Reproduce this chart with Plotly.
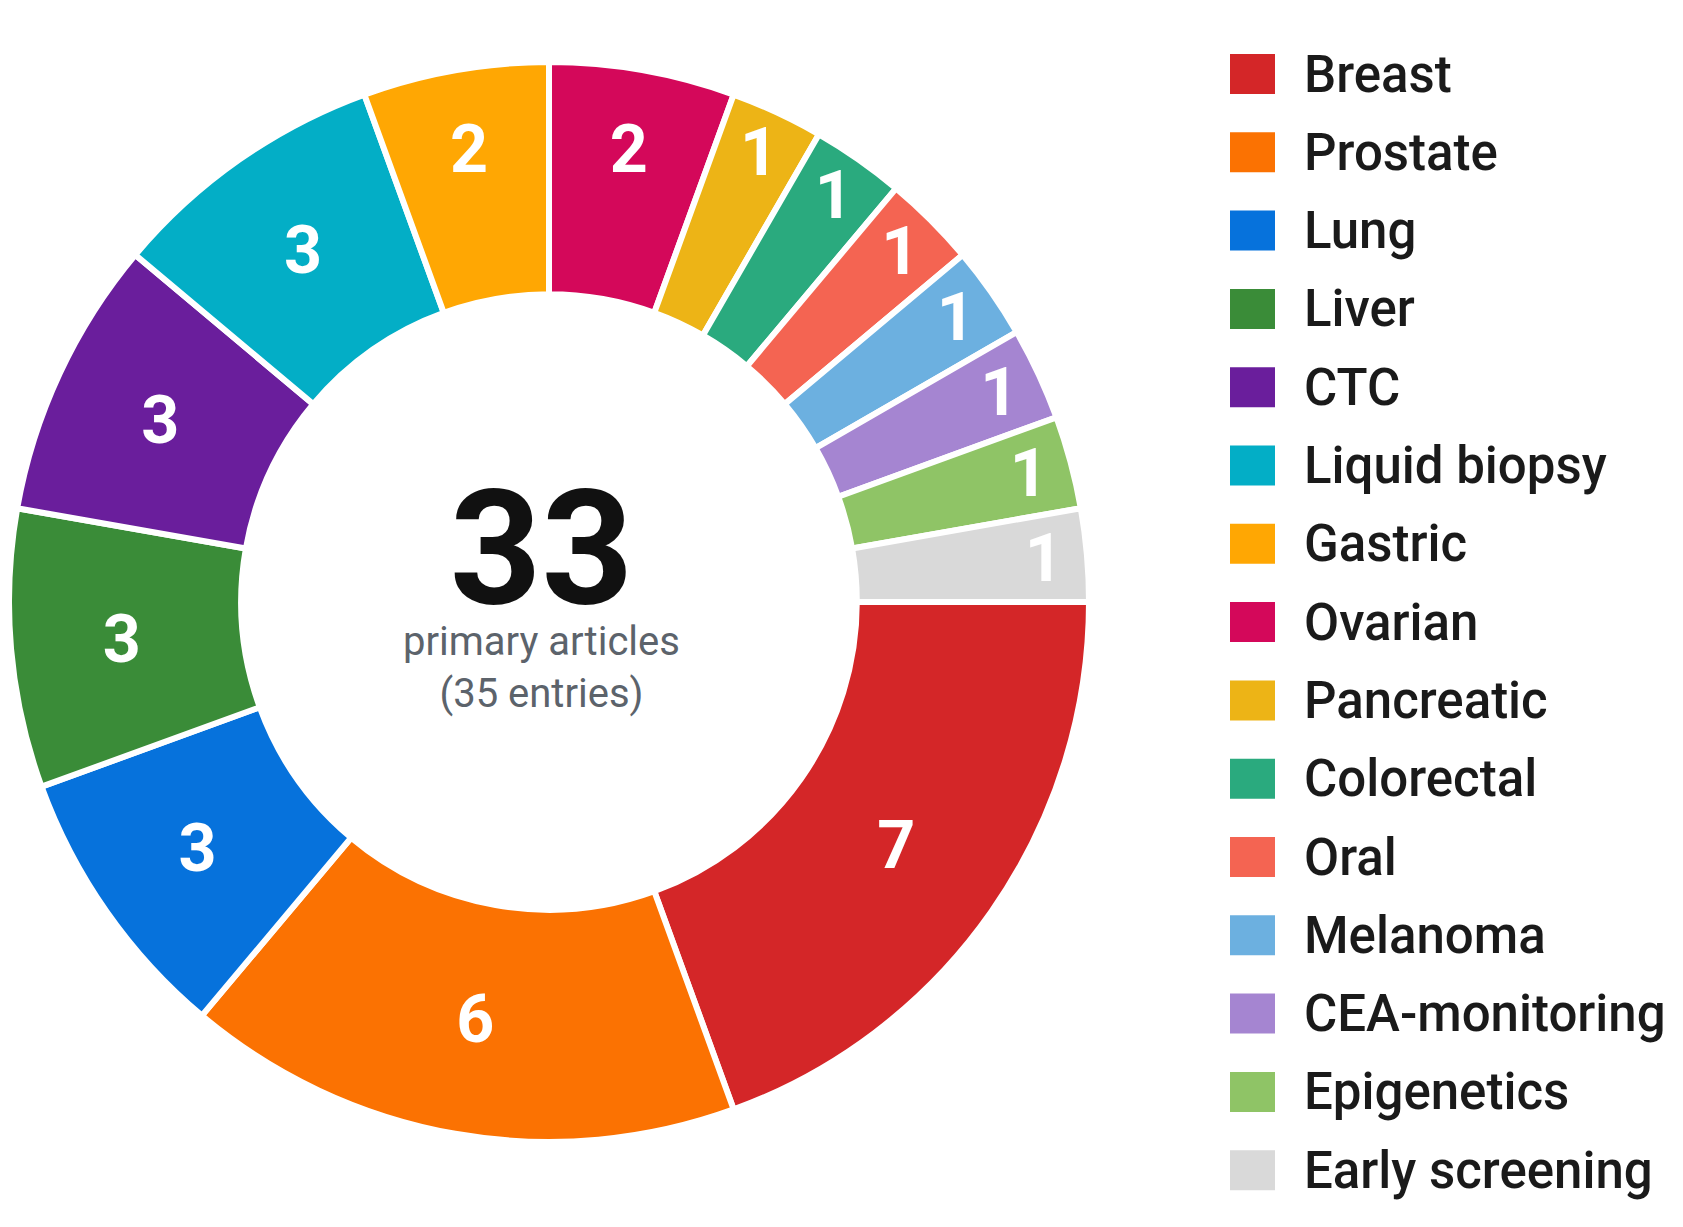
import plotly.graph_objects as go

W, H = 1683, 1227

categories = ["Breast", "Prostate", "Lung", "Liver", "CTC", "Liquid biopsy", "Gastric",
              "Ovarian", "Pancreatic", "Colorectal", "Oral", "Melanoma", "CEA-monitoring",
              "Epigenetics", "Early screening"]
counts = [7, 6, 3, 3, 3, 3, 2, 2, 1, 1, 1, 1, 1, 1, 1]
colors = ["#d42628", "#fb7202", "#0672dc", "#3a8c38", "#6a1e9c", "#03aec6", "#ffa703",
          "#d4085a", "#edb416", "#2aaa7e", "#f46452", "#6cb0e0", "#a585d1", "#8fc466",
          "#d9d9d9"]
center_value = "33"
center_line1 = "primary articles"
center_line2 = "(35 entries)"

fig = go.Figure()

# donut centred around pixel (541, 594) with outer radius ~540
cx, cy, R = 541, 594, 540
def clamp(v):
    return min(1.0, max(0.0, v))

fig.add_trace(go.Pie(
    labels=categories,
    values=counts,
    marker=dict(colors=colors, line=dict(color="white", width=6)),
    hole=0.57,
    sort=False,
    direction="clockwise",
    rotation=90,
    textinfo="value",
    textposition="inside",
    insidetextorientation="horizontal",
    textfont=dict(family="Roboto", size=70, color="white", weight="bold"),
    showlegend=False,
    hoverinfo="label+value",
    domain=dict(x=[clamp((cx - R) / W), clamp((cx + R) / W)],
                y=[clamp((H - cy - R) / H), clamp((H - cy + R) / H)]),
))

center_text = (
    f"<span style='font-size:160px;color:#111111'><b>{center_value}</b></span>"
    f"<br>{center_line1}<br>{center_line2}"
)
annotations = [
    dict(text=center_text, x=533 / W, y=1 - 578 / H, xref="paper", yref="paper",
         showarrow=False, align="center",
         font=dict(family="Roboto", size=40, color="#5c636b"),
         xanchor="center", yanchor="middle"),
]

shapes = []
y0, step = 66, 78.3
for i, (lab, col) in enumerate(zip(categories, colors)):
    yc = y0 + i * step
    shapes.append(dict(type="rect", xref="paper", yref="paper",
                       x0=1222 / W, x1=1267 / W, y0=1 - (yc + 20) / H, y1=1 - (yc - 20) / H,
                       fillcolor=col, line=dict(width=0)))
    annotations.append(dict(text=lab, x=1294 / W, y=1 - yc / H, xref="paper", yref="paper",
                            showarrow=False, xanchor="left", yanchor="middle",
                            font=dict(family="Roboto", size=51, color="#1a1a1a", weight=500)))

fig.update_layout(
    width=W, height=H,
    margin=dict(l=0, r=0, t=0, b=0),
    paper_bgcolor="white", plot_bgcolor="white",
    showlegend=False,
    annotations=annotations,
    shapes=shapes,
    uniformtext=dict(minsize=40, mode="show"),
)

fig.write_html("out.html")
